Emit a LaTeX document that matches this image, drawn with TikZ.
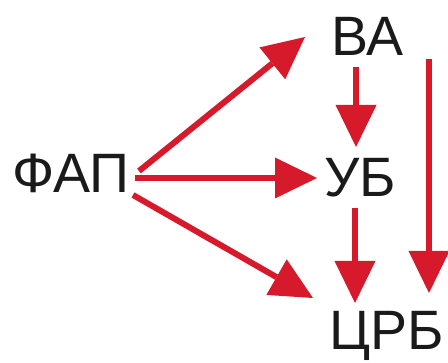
\documentclass[tikz,border=0pt]{standalone}
\usepackage{fontspec}
\setmainfont{Liberation Sans}
\usetikzlibrary{arrows.meta}
\definecolor{arrowred}{RGB}{214,26,44}
\definecolor{textblack}{RGB}{26,26,26}
\begin{document}
\begin{tikzpicture}[x=1pt,y=1pt,
  lbl/.style={anchor=base west,inner sep=0pt,font=\fontsize{55.5}{60}\selectfont,text=textblack},
  redarrow/.style={draw=arrowred,line width=6pt,
    -{Triangle[length=42pt,width=41pt,line width=0pt]}}]
\useasboundingbox (0,0) rectangle (448,363);
\node[lbl] (fap) at (12,170) {ФАП};
\node[lbl] (va) at (331,307) {ВА};
\node[lbl] (ub) at (324,166) {УБ};
\node[lbl] (crb) at (329,13) {ЦРБ};
% connectors, anchored relative to the named nodes
\draw[redarrow] ([shift={(127,22)}]fap.base west) -- ([shift={(-26,19)}]va.base west);
\draw[redarrow] ([shift={(123,15)}]fap.base west) -- ([shift={(-7,19)}]ub.base west);
\draw[redarrow] ([shift={(121,-2)}]fap.base west) -- ([shift={(-16,52)}]crb.base west);
\draw[redarrow] ([shift={(25,-11)}]va.base west) -- ([shift={(32,50)}]ub.base west);
\draw[redarrow] ([shift={(31,-11)}]ub.base west) -- ([shift={(26,47)}]crb.base west);
\draw[redarrow] ([shift={(98,-3)}]va.base west) -- ([shift={(100,57)}]crb.base west);
\end{tikzpicture}
\end{document}
